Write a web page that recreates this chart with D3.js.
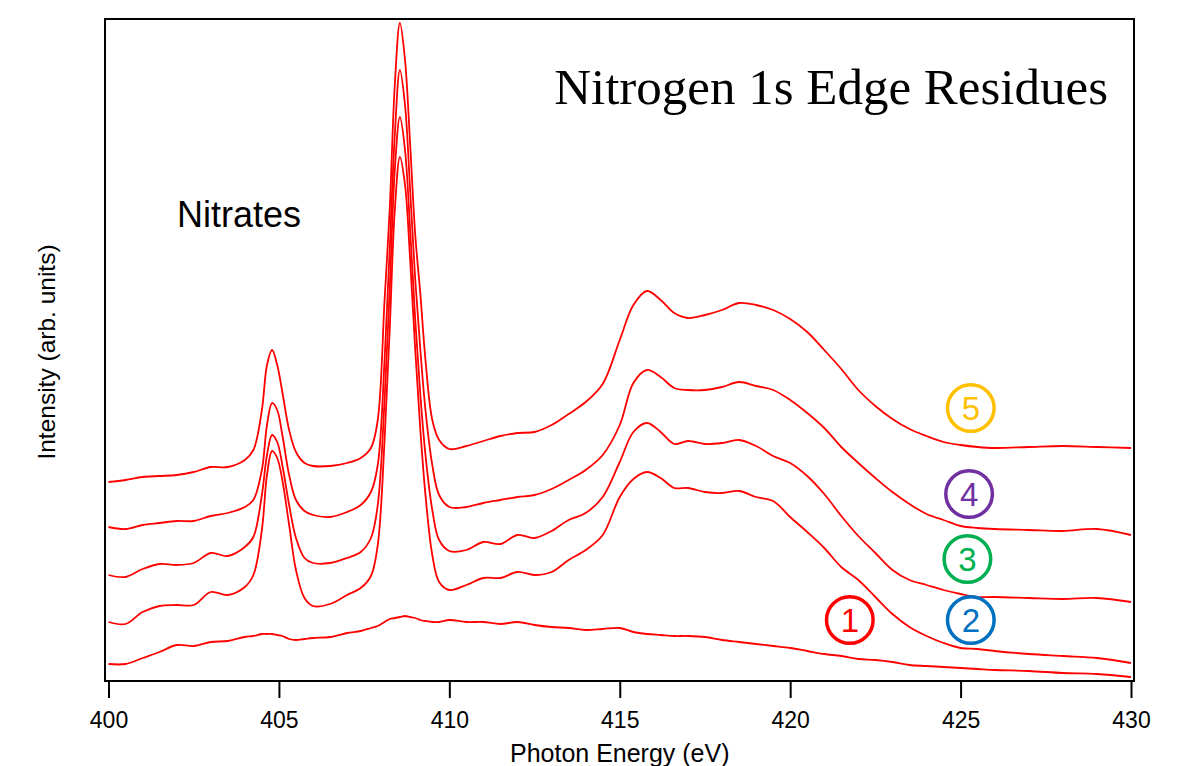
<!DOCTYPE html>
<html>
<head>
<meta charset="utf-8">
<script src="https://cdn.jsdelivr.net/npm/d3@7"></script>
<style>
  html, body { margin: 0; padding: 0; background: #ffffff; }
  svg { display: block; }
</style>
</head>
<body>
<svg id="chart" width="1190" height="766"></svg>
<script>
// Photon energy grid (eV)
const energy = [400, 400.5, 401, 401.5, 402, 402.5, 403, 403.5, 404, 404.25, 404.5, 404.65, 404.8, 404.95,
  405.1, 405.3, 405.5, 405.75, 406, 406.5, 407, 407.4, 407.7, 407.9, 408.1, 408.25, 408.4, 408.55, 408.7,
  408.85, 409, 409.15, 409.3, 409.5, 409.7, 410, 410.5, 411, 411.5, 412, 412.5, 413, 413.5, 414, 414.5,
  415, 415.4, 415.8, 416.2, 416.6, 417, 417.5, 418, 418.5, 419, 419.5, 420, 420.5, 421, 421.5, 422, 422.5,
  423, 423.5, 424, 424.5, 425, 425.5, 426, 427, 428, 429, 430];

// Offset intensities (arb. units), one array per residue
const residue1 = [17, 17, 23, 29, 36, 35, 39, 40, 44, 45, 47, 47, 47, 46,
  45, 42, 41, 42, 43, 44, 48, 50, 53, 55, 59, 62, 63, 64, 65,
  64, 63, 61, 60, 59, 59, 61, 59, 59, 57, 59, 56, 54, 53, 51, 52,
  53, 49, 47, 46, 45, 45, 44, 41, 39, 37, 35, 33, 30, 27, 25, 22, 21,
  19, 16, 15, 14, 13, 12, 11, 10, 8, 7, 4];
const residue2 = [59, 57, 69, 75, 76, 76, 89, 86, 94, 106, 151, 206, 230, 223,
  201, 156, 111, 83, 75, 77, 86, 93, 105, 136, 241, 351, 471, 524, 496,
  421, 331, 251, 186, 126, 99, 91, 96, 103, 103, 109, 106, 109, 121, 131, 146,
  184, 202, 209, 203, 193, 193, 189, 188, 190, 184, 180, 164, 149, 133, 114, 101, 84,
  67, 54, 45, 38, 33, 32, 30, 27, 25, 23, 18];
const residue3 = [106, 104, 112, 117, 116, 118, 128, 125, 134, 144, 186, 226, 246, 239,
  216, 176, 143, 123, 118, 118, 123, 129, 143, 176, 281, 391, 511, 564, 531,
  451, 361, 286, 226, 171, 141, 130, 131, 139, 137, 146, 143, 150, 161, 168, 184,
  219, 249, 258, 249, 237, 240, 237, 238, 241, 235, 225, 218, 205, 187, 165, 145, 128,
  111, 101, 96, 91, 87, 84, 84, 83, 82, 83, 79];
const residue4 = [154, 152, 156, 158, 160, 160, 165, 168, 174, 181, 211, 256, 278, 271,
  246, 206, 181, 170, 166, 164, 169, 176, 189, 216, 321, 431, 546, 611, 576,
  491, 401, 331, 271, 216, 186, 174, 174, 178, 181, 184, 186, 192, 201, 211, 226,
  256, 298, 311, 304, 293, 291, 291, 294, 299, 295, 291, 281, 268, 253, 234, 218, 203,
  189, 177, 167, 161, 155, 153, 152, 151, 150, 152, 146];
const residue5 = [199, 201, 204, 205, 206, 209, 214, 214, 221, 231, 271, 316, 331, 316,
  289, 251, 229, 218, 215, 215, 218, 223, 233, 261, 381, 471, 596, 658, 621,
  537, 446, 387, 321, 261, 241, 232, 235, 240, 245, 248, 249, 256, 267, 279, 297,
  341, 376, 390, 381, 368, 363, 366, 371, 378, 376, 371, 362, 349, 331, 312, 291, 275,
  262, 252, 245, 239, 236, 234, 233, 234, 235, 234, 233];

const seriesList = [residue1, residue2, residue3, residue4, residue5];

const xTicks = [400, 405, 410, 415, 420, 425, 430];

const markerLabels = ["1", "2", "3", "4", "5"];
const markerColors = ["#FF0000", "#0070C0", "#00B050", "#7030A0", "#FFC000"];
const markerEnergy = [421.75, 425.3, 425.2, 425.25, 425.3];
const markerLevel = [61, 61, 122, 187, 273];

const titleText = "Nitrogen 1s Edge Residues";
const annotText = "Nitrates";
const xTitle = "Photon Energy (eV)";
const yTitle = "Intensity (arb. units)";

// ---- drawing ----
const svg = d3.select("#chart");
const frame = { left: 105, right: 1134, top: 19, bottom: 681 };

const x = d3.scaleLinear().domain([400, 430]).range([108.5, 1131]);
const y = d3.scaleLinear().domain([0, 662]).range([681, 19]);

const sans = "'Liberation Sans', Arial, Helvetica, sans-serif";
const serif = "'Liberation Serif', 'Times New Roman', serif";

// curves
const line = d3.line()
  .x((d, i) => x(energy[i]))
  .y(d => y(d))
  .curve(d3.curveCatmullRom.alpha(0.5));

svg.append("g")
  .selectAll("path")
  .data(seriesList)
  .join("path")
  .attr("d", line)
  .attr("fill", "none")
  .attr("stroke", "#FF0000")
  .attr("stroke-width", 1.8)
  .attr("stroke-linejoin", "round");

// frame
svg.append("rect")
  .attr("x", frame.left)
  .attr("y", frame.top)
  .attr("width", frame.right - frame.left)
  .attr("height", frame.bottom - frame.top)
  .attr("fill", "none")
  .attr("stroke", "#000")
  .attr("stroke-width", 2);

// x axis
const xAxis = d3.axisBottom(x)
  .tickValues(xTicks)
  .tickSize(17)
  .tickPadding(14)
  .tickFormat(d3.format("d"));

const gx = svg.append("g")
  .attr("transform", `translate(0,${frame.bottom})`)
  .call(xAxis);
gx.select(".domain").remove();
gx.selectAll(".tick line").attr("stroke", "#000").attr("stroke-width", 2);
gx.selectAll(".tick text")
  .attr("fill", "#000")
  .style("font-family", sans)
  .style("font-size", "23px");

// axis titles
svg.append("text")
  .attr("x", x(415))
  .attr("y", 762)
  .attr("text-anchor", "middle")
  .style("font-family", sans)
  .style("font-size", "25px")
  .attr("fill", "#000")
  .text(xTitle);

svg.append("text")
  .attr("transform", `translate(55,${352}) rotate(-90)`)
  .attr("text-anchor", "middle")
  .style("font-family", sans)
  .style("font-size", "24.5px")
  .attr("fill", "#000")
  .text(yTitle);

// title
svg.append("text")
  .attr("x", 1108)
  .attr("y", 104)
  .attr("text-anchor", "end")
  .style("font-family", serif)
  .style("font-size", "51px")
  .attr("fill", "#000")
  .text(titleText);

// annotation
svg.append("text")
  .attr("x", 177)
  .attr("y", 227)
  .style("font-family", sans)
  .style("font-size", "36px")
  .attr("fill", "#000")
  .text(annotText);

// numbered markers
const mk = svg.append("g")
  .selectAll("g")
  .data(markerLabels)
  .join("g")
  .attr("transform", (d, i) => `translate(${x(markerEnergy[i])},${y(markerLevel[i])})`);

mk.append("circle")
  .attr("r", 23.3)
  .attr("fill", "none")
  .attr("stroke", (d, i) => markerColors[i])
  .attr("stroke-width", 3.5);

mk.append("text")
  .attr("text-anchor", "middle")
  .attr("dy", "0.36em")
  .style("font-family", sans)
  .style("font-size", "33px")
  .attr("fill", (d, i) => markerColors[i])
  .text(d => d);
</script>
</body>
</html>
